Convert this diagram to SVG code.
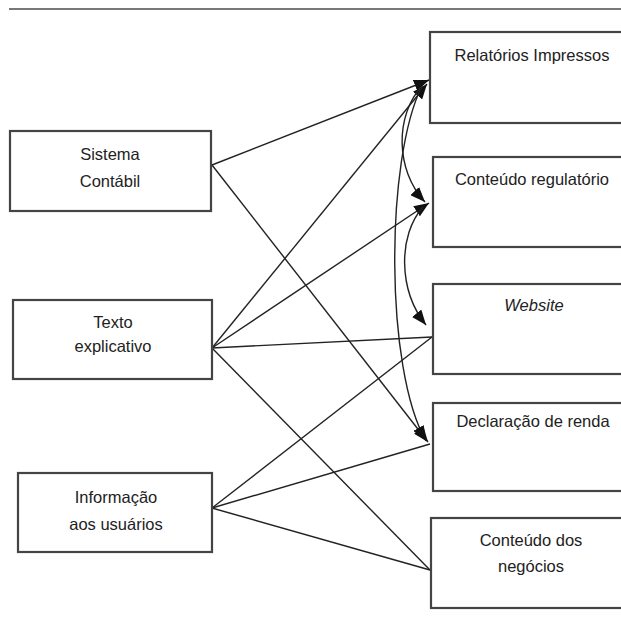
<svg xmlns="http://www.w3.org/2000/svg" width="621" height="628" viewBox="0 0 621 628">
<defs>
<marker id="ah" markerUnits="userSpaceOnUse" markerWidth="16" markerHeight="12" refX="15" refY="6" orient="auto">
<path d="M0,0 L15,6 L0,12 z" fill="#111"/>
</marker>
<style>
.box{fill:#fff;stroke:#444;stroke-width:2.2}
.t{font-family:"Liberation Sans",Arial,sans-serif;font-size:16.5px;fill:#222;text-anchor:middle}
.c{fill:none;stroke:#222;stroke-width:1.4}
.a{marker-end:url(#ah)}
</style>
</defs>
<rect width="621" height="628" fill="#fff"/>
<line x1="9" y1="9" x2="621" y2="9" stroke="#777" stroke-width="2"/>
<g id="connectors">
<path class="c a" d="M212,165 L429,80"/>
<path class="c a" d="M212,165 L428,442"/>
<path class="c a" d="M212,348 L427,84"/>
<path class="c a" d="M212,348 L429,203"/>
<path class="c" d="M212,348 L432,337"/>
<path class="c" d="M212,348 L430,570"/>
<path class="c" d="M212,508 L432,337"/>
<path class="c" d="M212,508 L430,444"/>
<path class="c" d="M212,508 L430,570"/>
<path class="c a" d="M422,86 C395,115 395,170 425,202"/>
<path class="c a" d="M422,86 C385,160 385,370 426,441"/>
<path class="c a" d="M423,207 C398,235 398,290 426,325"/>
</g>
<g id="sistema"><rect class="box" x="10" y="131" width="201" height="80"/><text class="t" x="110" y="160">Sistema</text><text class="t" x="110" y="187">Contábil</text></g>
<g id="texto"><rect class="box" x="13" y="300" width="199" height="79"/><text class="t" x="113" y="328">Texto</text><text class="t" x="113" y="352">explicativo</text></g>
<g id="informacao"><rect class="box" x="18" y="473" width="194" height="79"/><text class="t" x="116" y="503">Informação</text><text class="t" x="116" y="530">aos usuários</text></g>
<g id="relatorios"><rect class="box" x="430" y="32" width="205" height="91"/><text class="t" x="532" y="61">Relatórios Impressos</text></g>
<g id="regulatorio"><rect class="box" x="433" y="157" width="205" height="90"/><text class="t" x="532" y="185">Conteúdo regulatório</text></g>
<g id="website"><rect class="box" x="433" y="284" width="205" height="90"/><text class="t" x="534" y="311" font-style="italic">Website</text></g>
<g id="declaracao"><rect class="box" x="433" y="403" width="205" height="88"/><text class="t" x="533" y="427">Declaração de renda</text></g>
<g id="negocios"><rect class="box" x="431" y="518" width="205" height="90"/><text class="t" x="531" y="546">Conteúdo dos</text><text class="t" x="531" y="572">negócios</text></g>
</svg>
